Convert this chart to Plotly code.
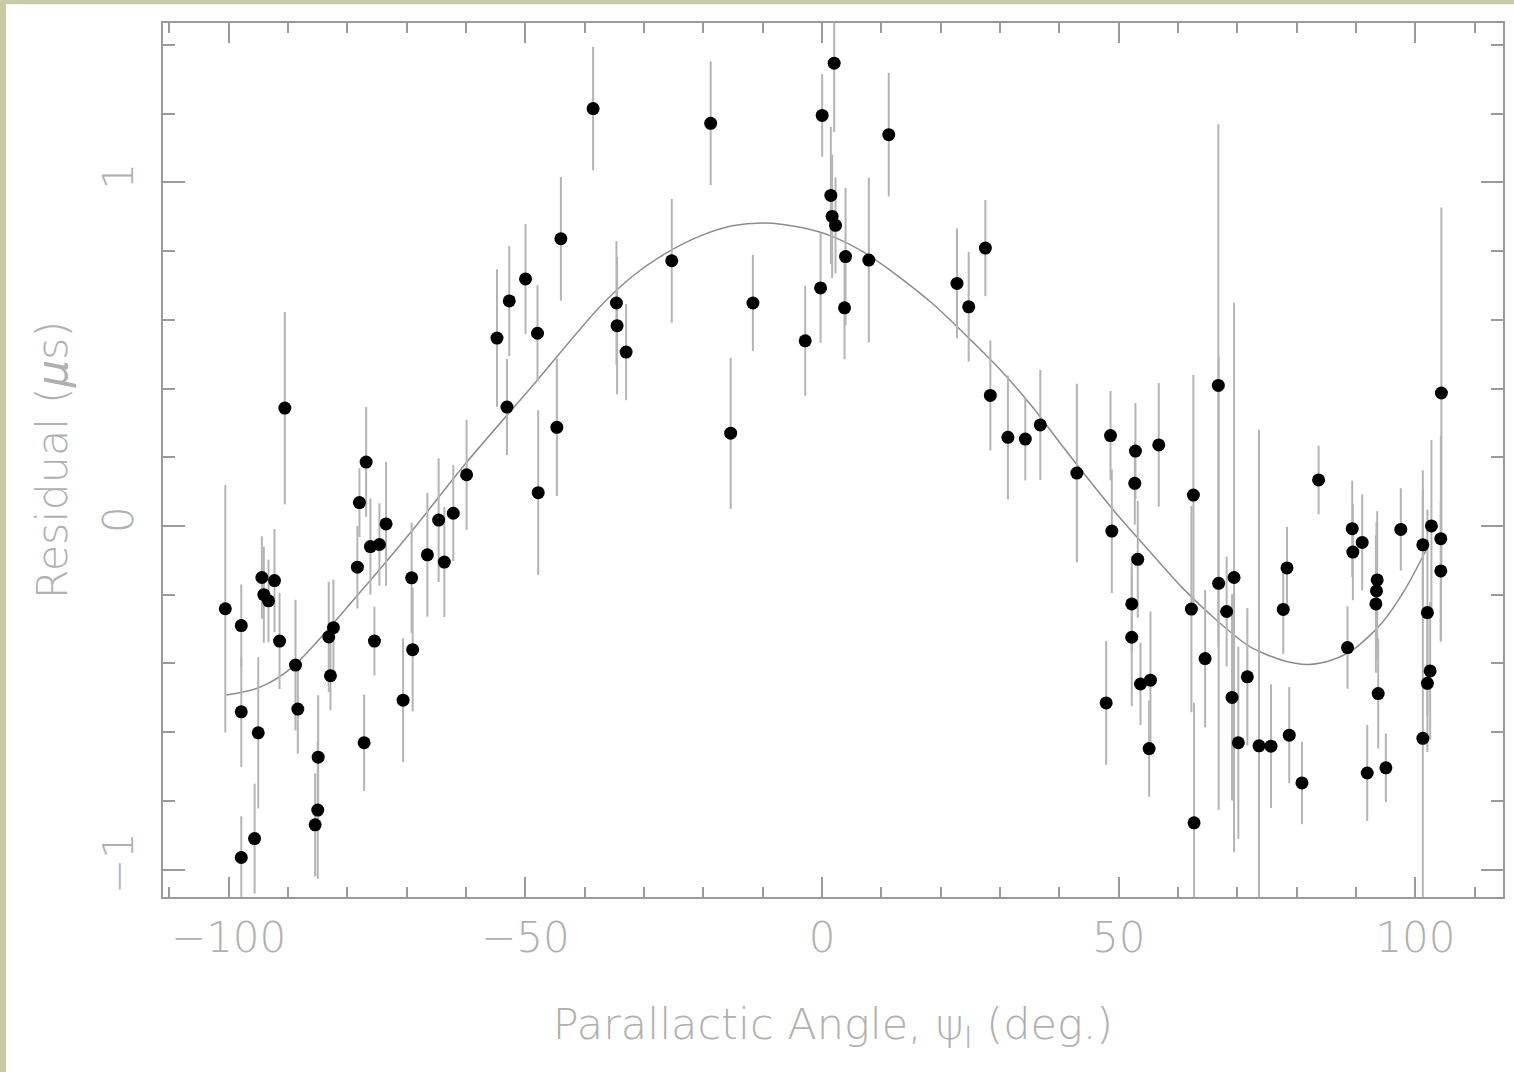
import plotly.graph_objects as go

# Timing residuals vs parallactic angle
psi = [-100.56, -97.87, -97.87, -97.87, -95.63, -95.01, -94.40, -94.07, -93.28, -92.27,
       -91.42, -90.53, -88.73, -88.34, -84.91, -84.98, -85.42, -83.13, -82.34, -82.84,
       -76.83, -77.96, -78.30, -76.11, -74.59, -73.47, -75.43, -77.17, -70.60, -69.16,
       -68.99, -66.51, -64.61, -63.65, -62.14, -59.90, -54.78, -52.71, -53.10, -49.97,
       -47.95, -47.83, -44.69, -44.01, -38.58, -34.65, -34.54, -33.02, -25.33, -18.77,
       -15.40, -11.65, -2.84, -0.25, 0.02, 2.04, 1.48, 1.70, 2.27, 3.96,
       3.79, 7.88, 11.24, 22.74, 24.71, 27.52, 28.36, 31.32, 34.25, 36.78,
       42.94, 48.61, 52.81, 56.74, 66.78, 104.37, 69.43, 73.63, 83.67, 48.83,
       52.70, 53.20, 52.19, 52.19, 53.66, 55.34, 55.12, 47.88, 62.24, 62.69,
       64.55, 66.83, 68.18, 69.09, 70.15, 71.67, 75.65, 77.72, 78.35, 78.73,
       80.87, 88.55, 89.34, 89.45, 91.02, 93.55, 93.43, 93.33, 93.72, 91.87,
       95.01, 97.53, 101.24, 102.69, 104.27, 104.27, 102.01, 102.47, 102.01, 101.24,
       62.58]
residual = [-0.241, -0.290, -0.541, -0.965, -0.910, -0.602, -0.150, -0.200, -0.218, -0.159,
            -0.335, 0.343, -0.405, -0.533, -0.673, -0.827, -0.870, -0.323, -0.296, -0.436,
            0.186, 0.068, -0.120, -0.060, -0.054, 0.006, -0.335, -0.631, -0.507, -0.151,
            -0.360, -0.084, 0.017, -0.105, 0.037, 0.149, 0.547, 0.655, 0.346, 0.719,
            0.561, 0.097, 0.287, 0.836, 1.215, 0.649, 0.583, 0.506, 0.772, 1.172,
            0.270, 0.649, 0.539, 0.693, 1.195, 1.347, 0.962, 0.901, 0.875, 0.784,
            0.635, 0.774, 1.139, 0.706, 0.638, 0.809, 0.380, 0.258, 0.253, 0.294,
            0.154, 0.263, 0.218, 0.236, 0.409, 0.387, -0.150, -0.640, 0.134, -0.015,
            0.124, -0.097, -0.227, -0.324, -0.460, -0.449, -0.648, -0.515, -0.242, -0.864,
            -0.386, -0.167, -0.249, -0.499, -0.631, -0.439, -0.641, -0.243, -0.122, -0.609,
            -0.748, -0.354, -0.008, -0.076, -0.048, -0.157, -0.189, -0.227, -0.488, -0.719,
            -0.704, -0.010, -0.055, 0.000, -0.037, -0.131, -0.252, -0.422, -0.458, -0.618,
            0.090]
sigma = [0.36, 0.12, 0.16, 0.12, 0.16, 0.22, 0.12, 0.14, 0.12, 0.15,
         0.14, 0.28, 0.19, 0.13, 0.18, 0.20, 0.15, 0.16, 0.14, 0.10,
         0.16, 0.10, 0.12, 0.14, 0.12, 0.18, 0.10, 0.14, 0.18, 0.16,
         0.18, 0.18, 0.18, 0.16, 0.14, 0.16, 0.20, 0.16, 0.14, 0.16,
         0.14, 0.24, 0.20, 0.18, 0.18, 0.18, 0.20, 0.14, 0.18, 0.18,
         0.22, 0.14, 0.16, 0.16, 0.12, 0.20, 0.20, 0.18, 0.14, 0.20,
         0.15, 0.24, 0.18, 0.16, 0.16, 0.14, 0.16, 0.18, 0.12, 0.16,
         0.26, 0.13, 0.14, 0.18, 0.76, 0.54, 0.80, 0.92, 0.10, 0.18,
         0.12, 0.17, 0.14, 0.20, 0.12, 0.20, 0.14, 0.18, 0.30, 0.35,
         0.20, 0.66, 0.16, 0.30, 0.28, 0.20, 0.18, 0.13, 0.12, 0.14,
         0.12, 0.12, 0.14, 0.14, 0.14, 0.20, 0.20, 0.20, 0.16, 0.14,
         0.10, 0.12, 0.16, 0.25, 0.30, 0.20, 0.30, 0.20, 0.20, 0.78,
         0.35]

# Fitted model curve, sampled along the angle range
fit_psi = [-100.4, -94.8, -89.2, -78.0, -69.0, -60.0, -48.2, -37.6, -32.0, -26.3,
           -20.7, -15.1, -9.5, -3.9, 1.7, 7.3, 12.9, 18.5, 24.2, 29.8,
           35.4, 40.4, 49.4, 55.0, 60.6, 66.2, 71.8, 77.4, 81.9, 85.9,
           89.8, 94.3, 98.2, 101.8]
fit_res = [-0.492, -0.470, -0.410, -0.196, -0.012, 0.183, 0.420, 0.635, 0.726, 0.794,
           0.843, 0.874, 0.882, 0.870, 0.843, 0.794, 0.726, 0.649, 0.556, 0.459,
           0.348, 0.235, 0.040, -0.070, -0.178, -0.270, -0.348, -0.390, -0.403, -0.390,
           -0.356, -0.283, -0.186, -0.070]

x_ticks = [-100, -50, 0, 50, 100]
y_ticks = [-1, 0, 1]

FONT = "DejaVu Sans"
AXIS_COLOR = "#9a9a9a"
TEXT_COLOR = "#b0b0b0"
BORDER = "#c9c9a6"

fig = go.Figure()

fig.add_trace(go.Scatter(
    x=fit_psi, y=fit_res, mode="lines",
    line=dict(color="#8c8c8c", width=1.5, shape="spline", smoothing=0.8),
    hoverinfo="skip", showlegend=False,
))

fig.add_trace(go.Scatter(
    x=psi, y=residual, mode="markers",
    marker=dict(color="black", size=13, line=dict(width=0)),
    error_y=dict(type="data", array=sigma, visible=True,
                 color="#b4b4b4", thickness=2, width=0),
    showlegend=False,
))

tick_font = dict(family=FONT, size=42, color=TEXT_COLOR, weight=200)
title_font = dict(family=FONT, size=43, color=TEXT_COLOR, weight=200)

axis_common = dict(
    showgrid=False, zeroline=False, showline=True, linecolor=AXIS_COLOR,
    linewidth=2, mirror="ticks", ticks="inside", tickcolor=AXIS_COLOR,
    tickwidth=2, tickfont=tick_font,
)

fig.update_layout(
    width=1514, height=1072,
    margin=dict(l=163, r=9, t=23, b=175),
    paper_bgcolor="white",
    plot_bgcolor="white",
    xaxis=dict(
        axis_common, range=[-111.06, 114.75],
        tickmode="array", tickvals=x_ticks, ticklen=20,
        ticklabelstandoff=3,
        minor=dict(dtick=10, tick0=0, ticklen=10, ticks="inside",
                   tickcolor=AXIS_COLOR, tickwidth=2, showgrid=False),
        title=dict(text="Parallactic Angle, ψ<sub>I</sub> (deg.)",
                   font=title_font, standoff=47),
    ),
    yaxis=dict(
        axis_common, range=[-1.080, 1.464],
        tickmode="array", tickvals=y_ticks, ticklen=22, tickangle=-90,
        ticklabelstandoff=11,
        minor=dict(dtick=0.2, tick0=0, ticklen=12, ticks="inside",
                   tickcolor=AXIS_COLOR, tickwidth=2, showgrid=False),
        title=dict(text="Residual (<i>μ</i>s)",
                   font=title_font, standoff=13),
    ),
    # beige paper edge along the left and top of the page
    shapes=[
        dict(type="rect", xref="paper", yref="paper",
             x0=-0.2, x1=-0.1172, y0=-0.4, y1=1.2,
             fillcolor=BORDER, line=dict(width=0), layer="below"),
        dict(type="rect", xref="paper", yref="paper",
             x0=-0.2, x1=1.2, y0=1.0215, y1=1.2,
             fillcolor=BORDER, line=dict(width=0), layer="below"),
    ],
)

fig.write_html("out.html")
